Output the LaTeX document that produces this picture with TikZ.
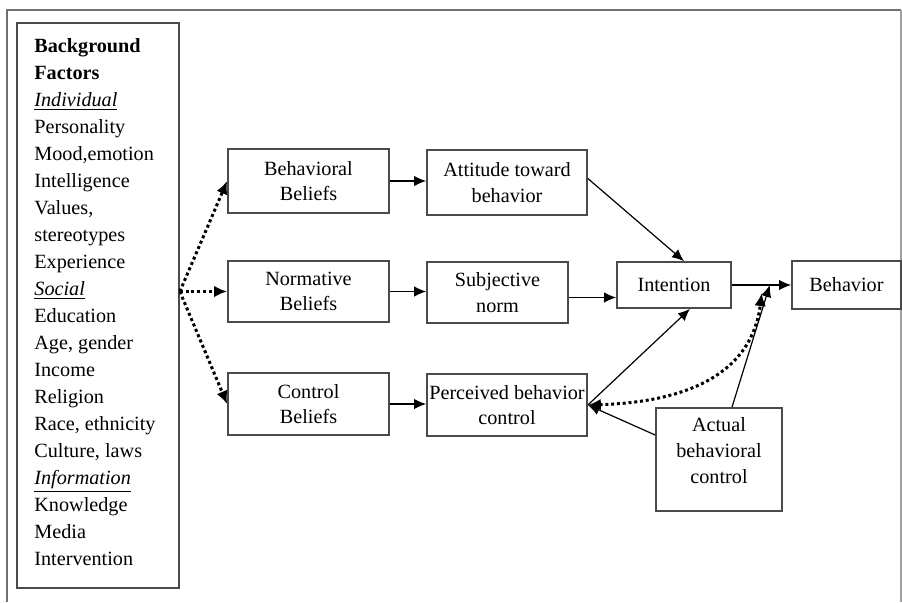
\documentclass[tikz,border=0pt]{standalone}
\usepackage{fontspec}
\setmainfont{Liberation Serif}
\usetikzlibrary{arrows.meta,calc}

\definecolor{boxgray}{HTML}{4A4A4A}
\definecolor{framegray}{HTML}{707070}
\definecolor{framelight}{HTML}{A0A0A0}

\newcommand{\heading}[1]{\underline{\textit{#1}}}

\begin{document}
\begin{tikzpicture}[x=0.5pt,y=-0.5pt,
  box/.style={draw=boxgray, line width=0.85pt, align=center, inner sep=0pt,
              font=\fontsize{10.1}{12.8}\selectfont},
  boxtext/.style={align=center, inner sep=0pt, font=\fontsize{10.1}{13}\selectfont},
  flow/.style={draw=black, line width=0.6pt, -{Latex[length=6pt,width=5.2pt]}},
  dots/.style={draw=black, line width=1.5pt, dash pattern=on 1.5pt off 1.4pt},
  dottip/.style={-{Latex[length=6.5pt,width=5.8pt]}},
  factor/.style={anchor=base west, inner sep=0pt, font=\fontsize{10.1}{12}\selectfont}
]
\useasboundingbox (0,0) rectangle (902,602);

% outer frame, open at the bottom
\draw[framegray, line width=1pt] (7,602) -- (7,10) -- (901,10);
\draw[framelight, line width=1pt] (901,10) -- (901,602);

% background factors column
\node[box, minimum width=81pt, minimum height=282.5pt] (bg) at (98,305.5) {};
\foreach [count=\i from 0] \t in {
  {\textbf{Background}}, {\textbf{Factors}}, {\heading{Individual}},
  {Personality}, {Mood,emotion}, {Intelligence}, {Values,}, {stereotypes},
  {Experience}, {\heading{Social}}, {Education}, {Age, gender},
  {Income}, {Religion}, {Race, ethnicity}, {Culture, laws},
  {\heading{Information}}, {Knowledge}, {Media}, {Intervention}}
  \node[factor] (f\i) at (34,{52+27*\i}) {\t};

% beliefs
\node[box, minimum width=80.5pt, minimum height=32pt]   (bb)  at (308.5,181)   {Behavioral\\Beliefs};
\node[box, minimum width=80.5pt, minimum height=30.5pt] (nb)  at (308.5,291.5) {Normative\\Beliefs};
\node[box, minimum width=80.5pt, minimum height=31pt]   (cb)  at (308.5,404)   {Control\\Beliefs};

% attitudes, norms, perceived control
\node[box, minimum width=80pt,   minimum height=32.5pt] (att) at (507,182.5)   {Attitude toward\\behavior};
\node[box, minimum width=70.5pt, minimum height=30.5pt] (sn)  at (497.5,292.5) {Subjective\\norm};
\node[box, minimum width=80pt,   minimum height=31pt]   (pbc) at (507,405)     {Perceived behavior\\control};

% intention and behavior
\node[box, minimum width=57pt,   minimum height=23pt]   (int) at (674,285)     {Intention};
\node[box, minimum width=54.5pt, minimum height=24pt]   (beh) at (846.5,285)   {Behavior};

% actual control
\node[box, minimum width=63pt, minimum height=51.5pt] (abc) at (719,459.5) {};
\node[boxtext] (abct) at (719,451) {Actual\\behavioral\\control};

% background factors feed the beliefs
\coordinate (src) at (bg.east |- nb.west);
\draw[dots, dottip] (src) -- (bb.west);
\draw[dots, dottip] (src) -- (nb.west);
\draw[dots, dottip] (src) -- (cb.west);

% beliefs to their determinants
\draw[flow] (bb.east) -- (bb.east -| att.west);
\draw[flow] (nb.east) -- (nb.east -| sn.west);
\draw[flow] (cb.east) -- (cb.east -| pbc.west);

% determinants to intention
\draw[flow] ([yshift=2pt]att.east) -- ([xshift=5pt]int.north);
\draw[flow] ([yshift=-2.5pt]sn.east) -- ([yshift=-2.5pt]sn.east -| int.west);
\draw[flow] (pbc.east) -- ([xshift=8pt]int.south);

% intention to behavior
\draw[flow] (int.east) -- (beh.west);
\coordinate (j1) at ($(int.east)!0.64!(beh.west)$);
\coordinate (j2) at ([shift={(-8,8)}]j1);

% actual control
\draw[flow] ([xshift=6.5pt]abc.north) -- (j1);
\draw[flow] ([yshift=12.25pt]abc.west) -- (pbc.east);
\draw[dots, {Latex[length=6.5pt,width=5.8pt]}-{Latex[length=6.5pt,width=5.8pt]}]
  (pbc.east) .. controls (690,402) and (752,372) .. (j2);

\end{tikzpicture}
\end{document}
